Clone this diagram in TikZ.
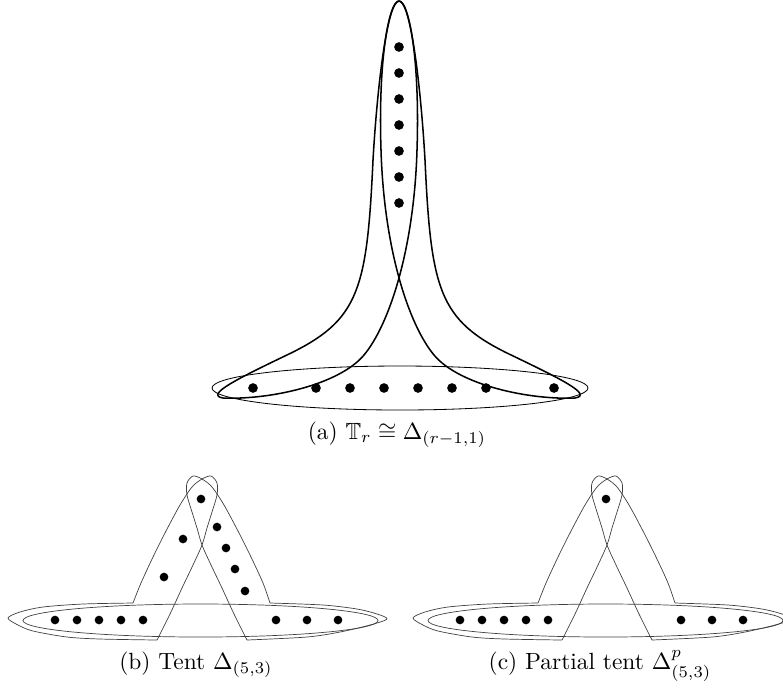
\documentclass[tikz,border=0pt]{standalone}
\usepackage{amsmath,amssymb}
\usetikzlibrary{positioning,calc}

\tikzset{
  vtx/.style={circle, fill=black, inner sep=0pt, minimum size=1.45mm},
  smallvtx/.style={vtx, minimum size=1.3mm},
  bigloop/.style={line width=0.65pt, line join=round},
  thinedge/.style={line width=0.3pt, black!75, line join=round},
  tent/.pic={
    \draw[thinedge] (200.5,620.5) ellipse [x radius=177.5, y radius=16.5];
    \draw[thinedge] plot[smooth] coordinates {(157,640) (100,639) (67,637) (33,631) (18,625) (8,618) (20,612) (43,607) (83,604) (133,603)}
      -- plot[smooth] coordinates {(133,603) (141,583) (153,557) (166,531) (180,505) (192,487) (202,479) (211,476) (217,483) (217,495) (212,512) (207,528) (202,545) (193,565) (182,588) (170,614) (157,640)} -- cycle;
    \draw[thinedge] plot[smooth] coordinates {(247,640) (307,637) (340,632) (370,625) (387,619) (377,614) (357,609) (323,605) (270,603)}
      -- plot[smooth] coordinates {(270,603) (263,583) (251,557) (238,531) (224,505) (212,487) (202,479) (193,476) (187,483) (187,495) (192,512) (197,528) (202,545) (211,565) (222,588) (234,614) (247,640)} -- cycle;
  }
}

\begin{document}
\begin{tikzpicture}[x=0.15mm, y=-0.15mm]
  \useasboundingbox (0,0) rectangle (783,687);

  \begin{scope}[shift={(399,0)}]
    \draw[line width=0.35pt] (1,388) ellipse [x radius=188, y radius=22];
    \foreach \side in {1,-1}
      \draw[bigloop, xscale=\side] (0,1) .. controls (-12,1) and (-22,90) .. (-26,160)
        .. controls (-32,290) and (-40,320) .. (-110,354)
        .. controls (-160,378) and (-195,395) .. (-176,398)
        .. controls (-130,400) and (-60,385) .. (-35,355)
        .. controls (-10,325) and (15,250) .. (18,150)
        .. controls (21,60) and (10,1) .. (0,1) -- cycle;
  \end{scope}
  \foreach \i in {1,...,7}
    \node[vtx] (a\i) at (399,{21+26*\i}) {};
  \foreach \x [count=\i] in {253,316,350,384,418,452,486,554}
    \node[vtx] (r\i) at (\x,388) {};
  \node[anchor=base] (capA) at (397,439) {(a) $\mathbb{T}_r \cong \Delta_{(r-1,1)}$};

  \pic at (0,0) {tent};
  \foreach \x [count=\i] in {55,77,99,121,143,276,307,338}
    \node[smallvtx] (b\i) at (\x,620) {};
  \foreach \x/\y [count=\i] in {164/577,183/539,201/499,217/527,226/548,235/569,245/591}
    \node[smallvtx] (t\i) at (\x,\y) {};
  \node[anchor=base] (capB) at (196,669) {(b) Tent $\Delta_{(5,3)}$};

  \pic at (405,0) {tent};
  \foreach \x [count=\i] in {460,482,504,526,548,681,712,743}
    \node[smallvtx] (c\i) at (\x,620) {};
  \node[smallvtx] (top) at (606,499) {};
  \node[anchor=base] (capC) at (600,669) {(c) Partial tent $\Delta^{p}_{(5,3)}$};
\end{tikzpicture}
\end{document}
